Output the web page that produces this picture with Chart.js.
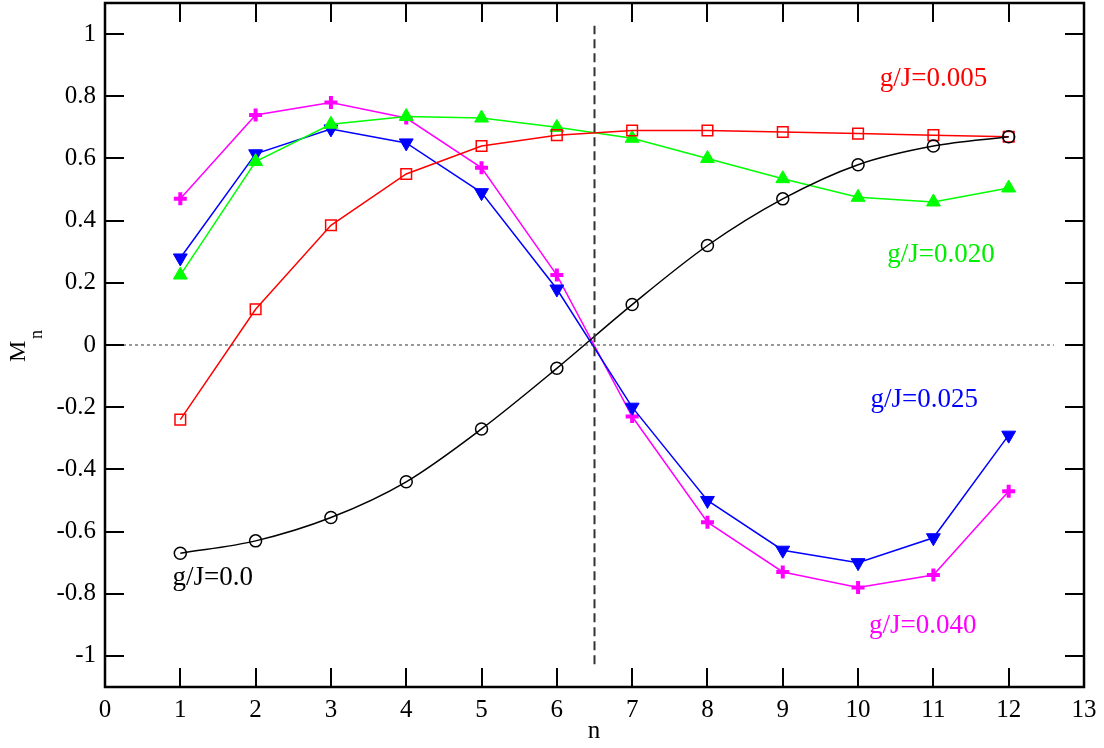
<!DOCTYPE html>
<html>
<head>
<meta charset="utf-8">
<script src="https://cdn.jsdelivr.net/npm/chart.js@4"></script>
<style>
  html, body { margin: 0; padding: 0; background: #fff; }
  #wrap { width: 1104px; height: 748px; }
</style>
</head>
<body>
<div id="wrap"><canvas id="myChart" width="1104" height="748"></canvas></div>
<script>
// site index n
const sites = [1, 2, 3, 4, 5, 6, 7, 8, 9, 10, 11, 12];

// M_n for each coupling g/J
const m000 = [-0.67, -0.63, -0.555, -0.44, -0.27, -0.075, 0.13, 0.32, 0.47, 0.58, 0.64, 0.67];
const m005 = [-0.24, 0.115, 0.385, 0.55, 0.64, 0.675, 0.69, 0.69, 0.685, 0.68, 0.675, 0.67];
const m020 = [0.225, 0.59, 0.71, 0.735, 0.73, 0.70, 0.665, 0.60, 0.535, 0.475, 0.46, 0.505];
const m025 = [0.28, 0.615, 0.695, 0.65, 0.49, 0.18, -0.20, -0.50, -0.66, -0.70, -0.62, -0.29];
const m040 = [0.47, 0.74, 0.78, 0.73, 0.57, 0.225, -0.23, -0.57, -0.73, -0.78, -0.74, -0.47];

const yTicks = [-1, -0.8, -0.6, -0.4, -0.2, 0, 0.2, 0.4, 0.6, 0.8, 1];

const serif = '"Liberation Serif", "Times New Roman", serif';

function pts(ys) {
  return sites.map((x, i) => ({x: x, y: ys[i]}));
}

// curve labels: [text, x, y, colour]
const curveLabels = [
  ['g/J=0.005', 11.0, 0.857, '#ff0000'],
  ['g/J=0.020', 11.1, 0.289, '#00ee00'],
  ['g/J=0.025', 10.88, -0.177, '#0000ff'],
  ['g/J=0.0', 1.43, -0.75, '#000000'],
  ['g/J=0.040', 10.86, -0.904, '#ff00ff'],
];

const frame = {
  id: 'frame',
  afterDraw(chart) {
    const c = chart.ctx, a = chart.chartArea;
    const xs = chart.scales.x, ys = chart.scales.y;
    c.save();
    c.strokeStyle = '#000';
    c.lineWidth = 2;
    c.beginPath();
    xs.ticks.forEach(t => {
      const px = Math.round(xs.getPixelForValue(t.value));
      if (t.value === 0 || t.value === 13) return;
      c.moveTo(px, a.bottom); c.lineTo(px, a.bottom - 19);
      c.moveTo(px, a.top); c.lineTo(px, a.top + 19);
    });
    ys.ticks.forEach(t => {
      const py = Math.round(ys.getPixelForValue(t.value));
      c.moveTo(a.left, py); c.lineTo(a.left + 19, py);
      c.moveTo(a.right, py); c.lineTo(a.right - 19, py);
    });
    c.stroke();
    c.lineWidth = 2.5;
    c.strokeRect(a.left, a.top, a.right - a.left, a.bottom - a.top);

    // curve labels
    c.font = '27px ' + serif;
    c.textAlign = 'center';
    c.textBaseline = 'middle';
    curveLabels.forEach(l => {
      c.fillStyle = l[3];
      c.fillText(l[0], xs.getPixelForValue(l[1]), ys.getPixelForValue(l[2]));
    });

    // axis titles
    c.fillStyle = '#000';
    c.textBaseline = 'alphabetic';
    c.font = '25px ' + serif;
    c.fillText('n', 594, 738);
    c.translate(25, ys.getPixelForValue(0));
    c.rotate(-Math.PI / 2);
    c.textAlign = 'left';
    c.font = '24px ' + serif;
    c.fillText('M', -17, 0);
    c.font = '18px ' + serif;
    c.fillText('n', 6, 17);
    c.restore();
  }
};

const ctx = document.getElementById('myChart').getContext('2d');
const myChart = new Chart(ctx, {
  type: 'scatter',
  data: {
    datasets: [
      {
        label: 'vline',
        data: [{x: 6.5, y: -1.027}, {x: 6.5, y: 1.027}],
        showLine: true, borderColor: '#333', borderWidth: 2,
        borderDash: [9, 5], pointRadius: 0
      },
      {
        label: 'zero',
        data: [{x: 0, y: 0}, {x: 12.6, y: 0}],
        showLine: true, borderColor: '#333', borderWidth: 1,
        borderDash: [3, 3], pointRadius: 0
      },
      {
        label: 'g/J=0.0', data: pts(m000), showLine: true,
        borderColor: '#000', borderWidth: 1.5, cubicInterpolationMode: 'monotone',
        pointStyle: 'circle', pointRadius: 6, pointBorderWidth: 1.5,
        pointBackgroundColor: 'rgba(0,0,0,0)', pointBorderColor: '#000'
      },
      {
        label: 'g/J=0.005', data: pts(m005), showLine: true,
        borderColor: '#ff0000', borderWidth: 1.5,
        pointStyle: 'rect', pointRadius: 7.5, pointBorderWidth: 1.5,
        pointBackgroundColor: 'rgba(0,0,0,0)', pointBorderColor: '#ff0000'
      },
      {
        label: 'g/J=0.020', data: pts(m020), showLine: true,
        borderColor: '#00ff00', borderWidth: 1.5,
        pointStyle: 'triangle', pointRadius: 8, pointBorderWidth: 1,
        pointBackgroundColor: '#00ff00', pointBorderColor: '#00ff00'
      },
      {
        label: 'g/J=0.025', data: pts(m025), showLine: true,
        borderColor: '#0000ff', borderWidth: 1.5,
        pointStyle: 'triangle', pointRotation: 180, pointRadius: 8, pointBorderWidth: 1,
        pointBackgroundColor: '#0000ff', pointBorderColor: '#0000ff'
      },
      {
        label: 'g/J=0.040', data: pts(m040), showLine: true,
        borderColor: '#ff00ff', borderWidth: 1.5,
        pointStyle: 'cross', pointRadius: 6.5, pointBorderWidth: 4,
        pointBackgroundColor: '#ff00ff', pointBorderColor: '#ff00ff'
      }
    ]
  },
  options: {
    responsive: false,
    animation: false,
    layout: { autoPadding: false, padding: { left: 0, right: 20, top: 3, bottom: 0 } },
    plugins: { legend: { display: false }, tooltip: { enabled: false } },
    elements: { line: { tension: 0 } },
    scales: {
      x: {
        type: 'linear', min: 0, max: 13,
        grid: { display: false, drawTicks: false },
        border: { display: false },
        afterFit: s => { s.height = 61; s.paddingLeft = 0; s.paddingRight = 0; },
        ticks: {
          stepSize: 1, padding: 8, color: '#000',
          font: { family: serif, size: 25 }
        }
      },
      y: {
        type: 'linear', min: -1.1, max: 1.1,
        grid: { display: false, drawTicks: false },
        border: { display: false },
        afterFit: s => { s.width = 105; s.paddingTop = 0; s.paddingBottom = 0; },
        afterBuildTicks: s => { s.ticks = yTicks.map(v => ({value: v})); },
        ticks: {
          padding: 9, color: '#000',
          font: { family: serif, size: 25 },
          callback: v => Math.abs(v) < 1e-9 ? '0' : String(+v.toFixed(1))
        }
      }
    }
  },
  plugins: [frame]
});
</script>
</body>
</html>
